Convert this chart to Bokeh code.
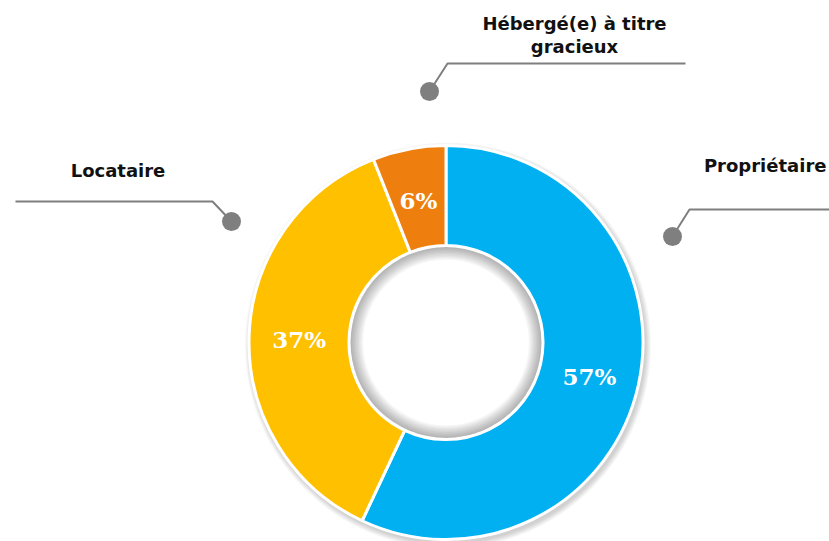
import math
import textwrap
from bokeh.plotting import figure
from bokeh.models import ColumnDataSource, Range1d
from bokeh.embed import file_html
from bokeh.resources import INLINE
from bokeh.core.properties import value

# ---- data ----
categories = ["Propriétaire", "Locataire", "Hébergé(e) à titre gracieux"]
values = [57, 37, 6]
colors = ["#00B0F0", "#FFC000", "#EE7F0E"]

# ---- layout helpers (pixel coords of the reference -> data coords) ----
W, H = 829, 541


def X(px):
    return px


def Y(py):
    return H - py


p = figure(width=W, height=H, x_range=Range1d(0, W), y_range=Range1d(0, H),
           output_backend="svg", toolbar_location=None, min_border=0)
p.axis.visible = False
p.grid.visible = False
p.outline_line_color = None
p.background_fill_color = "white"
p.border_fill_color = "white"

cx, cy = X(445.5), Y(342)
R_out, R_in = 197, 97

# outer soft shadow
for i in range(6):
    p.annulus(x=cx + 2, y=cy - 3, inner_radius=R_out - 3, outer_radius=R_out + 1 + i,
              fill_color="black", fill_alpha=0.03, line_color=None)

total = float(sum(values))
starts, ends, mids = [], [], []
cum = 0.0
for v in values:
    f0 = cum / total
    cum += v
    f1 = cum / total
    starts.append(math.pi / 2 - 2 * math.pi * f1)
    ends.append(math.pi / 2 - 2 * math.pi * f0)
    mids.append(math.pi / 2 - 2 * math.pi * (f0 + f1) / 2)

src = ColumnDataSource(dict(start=starts, end=ends, color=colors,
                            cat=categories, val=values))
p.annular_wedge(x=cx, y=cy, inner_radius=R_in, outer_radius=R_out,
                start_angle="start", end_angle="end", fill_color="color",
                line_color="white", line_width=3, source=src)

# inner shadow in the hole
for i in range(9):
    p.annulus(x=cx, y=cy, inner_radius=R_in - 3 - i * 1.4, outer_radius=R_in - 1.5,
              fill_color="black", fill_alpha=0.035, line_color=None)

# percentage labels
r_lab = (R_in + R_out) / 2
lx = [cx + r_lab * math.cos(a) for a in mids]
ly = [cy + r_lab * math.sin(a) - 2 for a in mids]
pct = [f"{v}%" for v in values]
p.text(x=lx, y=ly, text=pct, text_align="center", text_baseline="middle",
       text_font=value("DejaVu Serif"), text_font_style="bold",
       text_font_size="23px", text_color="white")

# leader lines and dots
lead_col = "#7F7F7F"
leaders = [
    [(X(672), Y(236)), (X(689), Y(209)), (X(829), Y(209))],   # Propriétaire
    [(X(231), Y(221)), (X(212), Y(201)), (X(15), Y(201))],    # Locataire
    [(X(429), Y(91)), (X(447), Y(63)), (X(685), Y(63))],      # Hébergé
]
for path in leaders:
    p.line(x=[a for a, b in path], y=[b for a, b in path], line_color=lead_col, line_width=2)
    p.scatter(x=[path[0][0]], y=[path[0][1]], size=19, fill_color=lead_col, line_color=None)

# category labels
font = value("DejaVu Sans")
p.text(x=[X(826)], y=[Y(165)], text=[categories[0]], text_align="right",
       text_baseline="alphabetic", text_font=font, text_font_style="bold",
       text_font_size="18px", text_color="#111111")
p.text(x=[X(117.5)], y=[Y(170)], text=[categories[1]], text_align="center",
       text_baseline="alphabetic", text_font=font, text_font_style="bold",
       text_font_size="18px", text_color="#111111")
lines = textwrap.wrap(categories[2], 18)
p.text(x=[X(574)] * len(lines), y=[Y(23 + 23 * i) for i in range(len(lines))], text=lines,
       text_align="center", text_baseline="alphabetic", text_font=font,
       text_font_style="bold", text_font_size="18px", text_color="#111111")

open("out.html", "w").write(file_html(p, INLINE))
